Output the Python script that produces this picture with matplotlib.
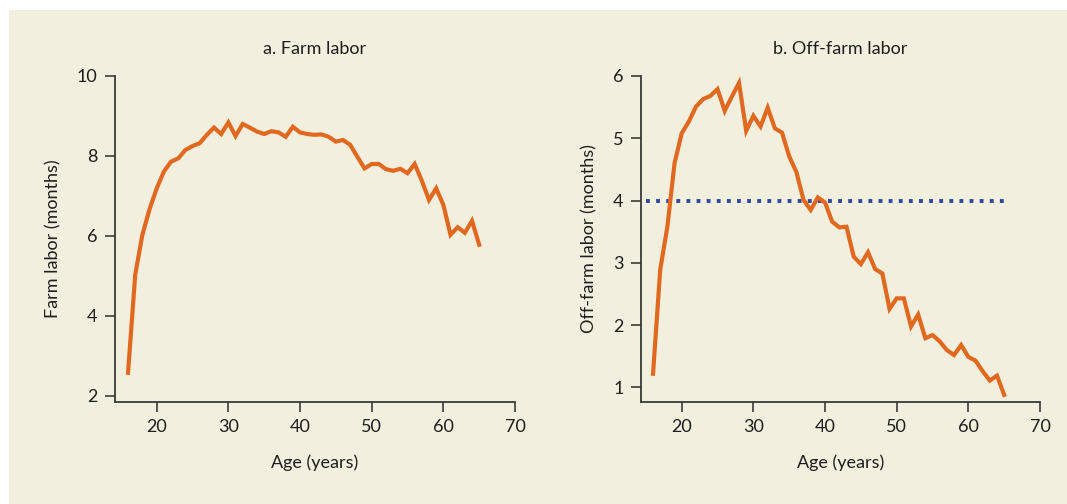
import matplotlib
matplotlib.use("Agg")
import matplotlib.pyplot as plt
from matplotlib.patches import Rectangle

plt.rcParams['font.family'] = ['Lato', 'DejaVu Sans']

# Age in years for both panels
ages = list(range(16, 66))

# Farm labor (months) by age
farm_labor = [2.58, 5.03, 6.03, 6.67, 7.19, 7.61, 7.86, 7.94, 8.15, 8.25,
              8.32, 8.53, 8.71, 8.55, 8.84, 8.50, 8.80, 8.71, 8.61, 8.55,
              8.62, 8.59, 8.48, 8.73, 8.59, 8.55, 8.53, 8.54, 8.48, 8.36,
              8.40, 8.28, 7.98, 7.69, 7.80, 7.80, 7.67, 7.63, 7.68, 7.57,
              7.80, 7.38, 6.90, 7.19, 6.78, 6.03, 6.22, 6.08, 6.38, 5.78]

# Off-farm labor (months) by age
off_farm_labor = [1.22, 2.89, 3.58, 4.60, 5.08, 5.27, 5.51, 5.63, 5.68, 5.79,
                  5.44, 5.67, 5.89, 5.12, 5.36, 5.19, 5.49, 5.16, 5.09, 4.71,
                  4.46, 4.01, 3.85, 4.05, 3.97, 3.66, 3.57, 3.58, 3.10, 2.98,
                  3.17, 2.90, 2.83, 2.26, 2.43, 2.43, 1.98, 2.17, 1.79, 1.84,
                  1.74, 1.60, 1.52, 1.68, 1.49, 1.43, 1.26, 1.11, 1.19, 0.88]

# Reference level for off-farm labor
reference_level = 4
reference_span = [15, 65]

x_ticks = [20, 30, 40, 50, 60, 70]
farm_ticks = [2, 4, 6, 8, 10]
off_farm_ticks = [1, 2, 3, 4, 5, 6]

BG = '#f2efde'
ORANGE = '#e0691f'
BLUE = '#2d4a9a'
INK = '#1e1e1e'
SPINE = '#3a3a3a'
FS = 13

fig = plt.figure(figsize=(10.67, 5.04), dpi=100)
fig.patch.set_facecolor('white')
fig.patches.append(Rectangle((9 / 1067, 0), 1 - 9 / 1067, 1 - 10 / 504,
                             transform=fig.transFigure, facecolor=BG,
                             edgecolor='none', zorder=-10))

ax1 = fig.add_axes([115 / 1067, 1 - 402 / 504, 400 / 1067, 326 / 504])
ax2 = fig.add_axes([641 / 1067, 1 - 402 / 504, 399 / 1067, 326 / 504])


def style(ax):
    ax.set_facecolor('none')
    for s in ('top', 'right'):
        ax.spines[s].set_visible(False)
    for s in ('left', 'bottom'):
        ax.spines[s].set_color(SPINE)
        ax.spines[s].set_linewidth(1.3)
    ax.tick_params(direction='out', length=7.5, width=1.2, color=SPINE,
                   labelsize=FS, labelcolor=INK, pad=5)
    ax.set_xticks(x_ticks)
    ax.set_xlabel('Age (years)', fontsize=FS, color=INK, labelpad=14)


style(ax1)
ax1.plot(ages, farm_labor, color=ORANGE, lw=3.0, solid_joinstyle='miter')
ax1.set_xlim(14.18, 70)
ax1.set_ylim(1.85, 10)
ax1.set_yticks(farm_ticks)
ax1.set_ylabel('Farm labor (months)', fontsize=FS, color=INK, labelpad=11)
ax1.set_title('a. Farm labor', fontsize=FS, color=INK, pad=16)

style(ax2)
ax2.plot(reference_span, [reference_level, reference_level], color=BLUE,
         lw=2.8, linestyle=(0, (1.0, 1.6)), solid_capstyle='butt')
ax2.plot(ages, off_farm_labor, color=ORANGE, lw=3.0, solid_joinstyle='miter')
ax2.set_xlim(14.32, 70)
ax2.set_ylim(0.766, 6)
ax2.set_yticks(off_farm_ticks)
ax2.set_ylabel('Off-farm labor (months)', fontsize=FS, color=INK, labelpad=11)
ax2.set_title('b. Off-farm labor', fontsize=FS, color=INK, pad=16)

fig.savefig('out.png', dpi=100, facecolor=fig.get_facecolor())
